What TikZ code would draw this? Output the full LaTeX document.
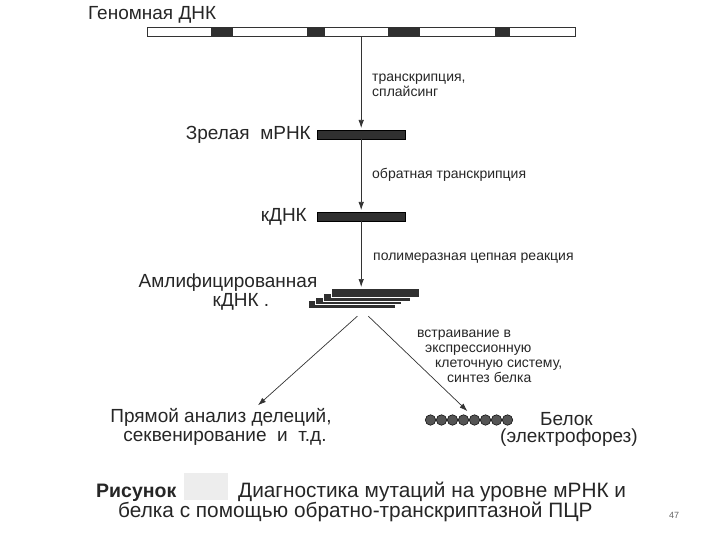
\documentclass[tikz,border=0pt]{standalone}
\usepackage{fontspec}
\setmainfont{Liberation Sans}
\usetikzlibrary{arrows.meta, positioning}

\definecolor{ink}{HTML}{262626}
\definecolor{barfill}{HTML}{303030}
\definecolor{beadfill}{HTML}{555555}

\begin{document}
\begin{tikzpicture}[
  x=1pt, y=-1pt,
  text=ink,
  lbl/.style={font=\fontsize{19}{19}\selectfont, inner sep=0pt},
  note/.style={font=\fontsize{14}{15}\selectfont, inner sep=0pt, align=left},
  captext/.style={font=\fontsize{20.8}{20}\selectfont, inner sep=0pt},
  bar/.style={fill=barfill, draw=black, line width=0.4pt, inner sep=0pt,
    minimum height=9pt, anchor=north west},
  strand/.style={fill=barfill, draw=white, line width=0.7pt, inner sep=0pt,
    minimum height=7.5pt, anchor=north west},
  bead/.style={circle, fill=beadfill, draw=black, line width=0.5pt,
    inner sep=0pt, minimum size=10.5pt},
  arrow/.style={-{Latex[length=8pt, width=5.5pt]}, draw=black!80, line width=0.7pt}
]
\useasboundingbox (0,0) rectangle (720,540);

% --- Genomic DNA ---
\node[draw=black!80, line width=0.6pt, inner sep=0pt, minimum width=428pt,
  minimum height=9pt, anchor=north west] (gdna) at (147,27) {};
\foreach \a/\b in {211/233, 307/325, 388/420, 495/510}
  \fill[barfill] (\a,27.3) rectangle (\b,35.7);
\node[lbl, anchor=base west] (glabel) at (88,20) {Геномная ДНК};

% --- Mature mRNA ---
\node[bar, minimum width=88pt] (mrna) at (317,130) {};
\node[lbl, anchor=base east] (mlabel) at ([xshift=-6pt]mrna.south west)
{Зрелая\ \ мРНК};

\draw[arrow, shorten >=2pt] (gdna.south -| mrna.north) -- (mrna.north);
\node[note, anchor=west] (splice) at (372,85) {транскрипция,\\сплайсинг};

% --- cDNA ---
\node[bar, minimum width=88pt] (cdna) at (317,212) {};
\node[lbl, anchor=base east] (clabel) at ([xshift=-10pt]cdna.south west) {кДНК};

\draw[arrow, shorten >=2pt] (mrna.south) -- (cdna.north);
\node[note, anchor=west] (rt) at (372,175) {обратная транскрипция};

% --- Amplified cDNA ---
\node[strand, minimum width=87pt] (amp4) at (308,300) {};
\node[strand, minimum width=86pt] (amp3) at (315,296.5) {};
\node[strand, minimum width=87pt] (amp2) at (323,293) {};
\node[strand, minimum width=88pt, minimum height=8.5pt] (amp1) at (331,288) {};
\node[lbl, align=center] (alabel) at (228,292)
{Амлифицированная\\\hspace*{26pt}кДНК .};

\draw[arrow, shorten >=1pt] (cdna.south) -- (cdna.south |- amp1.north);
\node[note, anchor=west] (pcr) at (373,258) {полимеразная цепная реакция};

% --- Outcomes ---
\node[lbl, align=center] (direct) at (221,427)
{Прямой анализ делеций,\\\hspace*{8pt}секвенирование\ \ и\ \ т.д.};

\foreach \i in {0,...,7}
  \node[bead] (b\i) at (430.5+\i*11, 420) {};
\node[lbl, anchor=west] (protein) at (540,419) {Белок};
\node[lbl, anchor=west] (ephor) at (500,438) {(электрофорез)};

\draw[arrow] ([xshift=5.5pt, yshift=-8pt]amp4.south)
  -- ([xshift=37pt, yshift=3pt]direct.north);
\draw[arrow] ([xshift=16.5pt, yshift=-8pt]amp4.south)
  -- ([xshift=0pt, yshift=5pt]b3.north east);

\node[note, anchor=west] (expr) at (417,356)
{встраивание в\\\hspace*{8pt}экспрессионную\\\hspace*{18pt}клеточную систему,\\\hspace*{30pt}синтез белка};

% --- Caption ---
\node[captext, anchor=base west, font=\fontsize{19.5}{20}\selectfont\bfseries] (fig) at (96,497) {Рисунок};
\node[fill=black!7, inner sep=0pt, minimum width=44pt, minimum height=27pt,
  anchor=north west] (blank) at (184,473) {};
\node[captext, anchor=base west] (title1) at (238,497) {Диагностика мутаций на уровне мРНК и};
\node[captext, anchor=base west] (title2) at (118,517) {белка с помощью обратно-транскриптазной ПЦР};
\node[font=\fontsize{9}{10}\selectfont, text=black!60, inner sep=0pt,
  anchor=base west] (page) at (669,518) {47};

\end{tikzpicture}
\end{document}
